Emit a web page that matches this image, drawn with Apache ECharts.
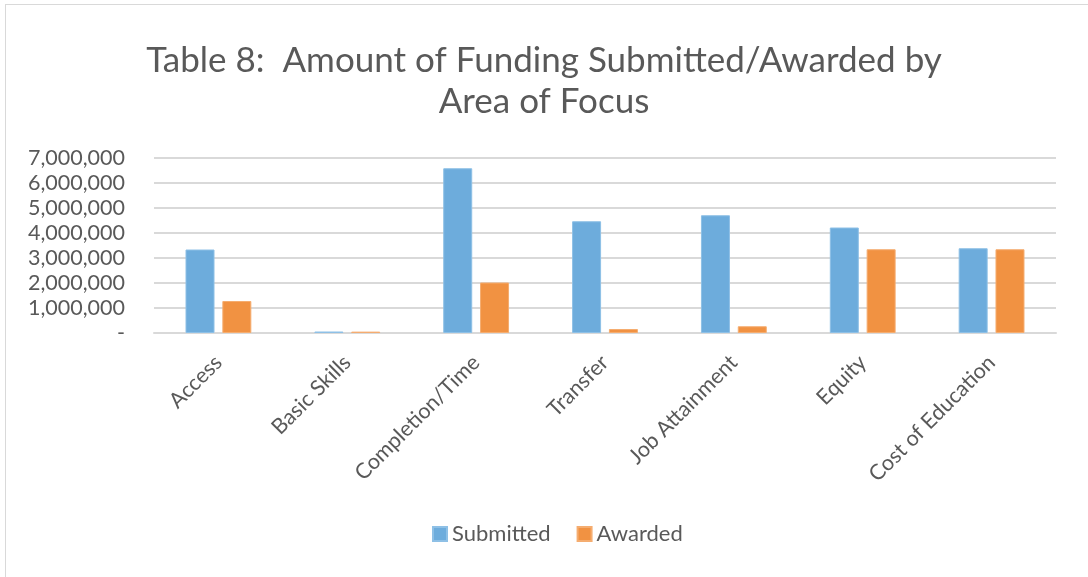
<!DOCTYPE html>
<html>
<head>
<meta charset="utf-8">
<script src="https://cdn.jsdelivr.net/npm/echarts@6/dist/echarts.min.js"></script>
<style>
  html, body { margin: 0; padding: 0; background: #fff; }
  #frame {
    position: absolute; left: 5px; top: 4px; width: 1090px; height: 580px;
    border-left: 1px solid #d9d9d9; border-top: 1px solid #d9d9d9;
  }
  #chart { position: absolute; left: 0; top: 0; width: 1088px; height: 577px; }
</style>
</head>
<body>
<div id="frame"></div>
<div id="chart"></div>
<script>
const categories = ["Access", "Basic Skills", "Completion/Time", "Transfer", "Job Attainment", "Equity", "Cost of Education"];
const submitted = [3340000, 60000, 6590000, 4470000, 4710000, 4220000, 3390000];
const awarded = [1280000, 55000, 2020000, 160000, 270000, 3350000, 3350000];

const textColor = "#595959";
const font = "Lato, 'Open Sans', sans-serif";

function yFormat(val) {
  if (!val) return "-";
  return String(val).replace(/\B(?=(\d{3})+(?!\d))/g, ",");
}

const chart = echarts.init(document.getElementById("chart"));
chart.setOption({
  animation: false,
  title: {
    text: "Table 8:  Amount of Funding Submitted/Awarded by\nArea of Focus",
    left: "center",
    top: 35,
    textStyle: {
      color: textColor,
      fontFamily: font,
      fontWeight: "normal",
      fontSize: 35,
      lineHeight: 41,
    },
  },
  legend: {
    bottom: 27,
    left: 427,
    itemWidth: 14,
    itemHeight: 14,
    itemGap: 26,
    icon: "rect",
    textStyle: { color: textColor, fontFamily: font, fontSize: 22 },
    data: ["Submitted", "Awarded"],
  },
  grid: {
    left: 154,
    right: 32,
    top: 158,
    bottom: 244,
    containLabel: false,
  },
  xAxis: {
    type: "category",
    data: categories,
    axisTick: { show: false },
    axisLine: { lineStyle: { color: "#d9d9d9", width: 2 } },
    axisLabel: {
      rotate: 45,
      margin: 26,
      color: textColor,
      fontFamily: font,
      fontSize: 21.5,
      interval: 0,
    },
  },
  yAxis: {
    type: "value",
    min: 0,
    max: 7000000,
    interval: 1000000,
    axisLine: { show: false },
    axisTick: { show: false },
    splitLine: { lineStyle: { color: "#d9d9d9", width: 2 } },
    axisLabel: {
      margin: 29,
      color: textColor,
      fontFamily: font,
      fontSize: 21.5,
      formatter: yFormat,
    },
  },
  series: [
    {
      name: "Submitted",
      type: "bar",
      data: submitted,
      barWidth: 29,
      barGap: "27%",
      itemStyle: { color: "#6dacdc", borderColor: "#8ec0e6", borderWidth: 1 },
    },
    {
      name: "Awarded",
      type: "bar",
      data: awarded,
      barWidth: 29,
      itemStyle: { color: "#f19242", borderColor: "#f5ad70", borderWidth: 1 },
    },
  ],
});
</script>
</body>
</html>
